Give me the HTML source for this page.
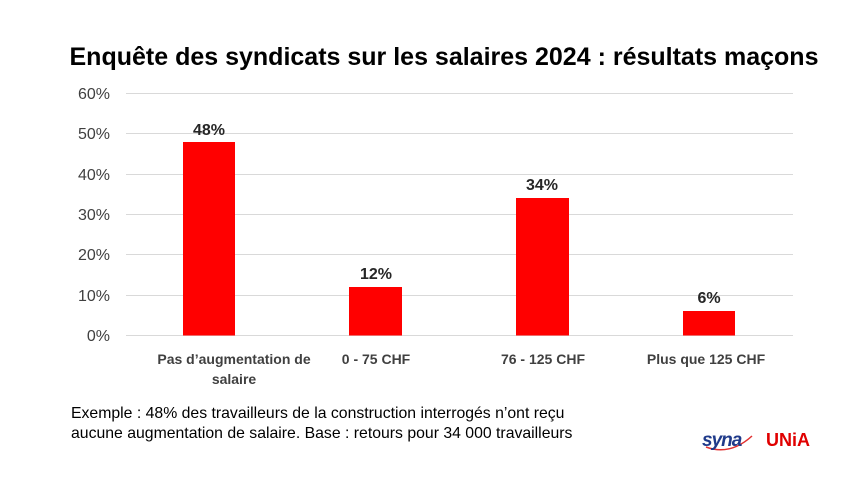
<!DOCTYPE html>
<html><head><meta charset="utf-8"><style>
body{margin:0;background:#fff;width:856px;height:481px;overflow:hidden;font-family:"Liberation Sans",sans-serif}
</style></head><body>
<svg width="856" height="481" xmlns="http://www.w3.org/2000/svg" font-family="Liberation Sans, sans-serif">
<text x="444" y="65" text-anchor="middle" font-size="25" font-weight="bold" fill="#000">Enquête des syndicats sur les salaires 2024 : résultats maçons</text>
<g stroke="#d9d9d9" stroke-width="1">
<line x1="126" x2="793" y1="93.5" y2="93.5"/><line x1="126" x2="793" y1="133.5" y2="133.5"/>
<line x1="126" x2="793" y1="174.5" y2="174.5"/><line x1="126" x2="793" y1="214.5" y2="214.5"/>
<line x1="126" x2="793" y1="254.5" y2="254.5"/><line x1="126" x2="793" y1="295.5" y2="295.5"/>
<line x1="126" x2="793" y1="335.5" y2="335.5"/>
</g>
<g font-size="16" fill="#404040" text-anchor="end">
<text x="110" y="99">60%</text><text x="110" y="139">50%</text><text x="110" y="180">40%</text>
<text x="110" y="220">30%</text><text x="110" y="260">20%</text><text x="110" y="301">10%</text><text x="110" y="341">0%</text>
</g>
<g fill="#ff0000">
<rect x="183" y="142" width="52" height="193.5"/>
<rect x="349" y="287" width="53" height="48.5"/>
<rect x="516" y="198" width="53" height="137.5"/>
<rect x="683" y="311" width="52" height="24.5"/>
</g>
<g font-size="16" font-weight="bold" fill="#262626" text-anchor="middle">
<text x="209" y="135">48%</text><text x="376" y="279">12%</text><text x="542" y="190">34%</text><text x="709" y="303">6%</text>
</g>
<g font-size="14" font-weight="bold" fill="#404040" text-anchor="middle">
<text x="234" y="364">Pas d’augmentation de</text><text x="234" y="384">salaire</text>
<text x="376" y="364">0 - 75 CHF</text><text x="543" y="364">76 - 125 CHF</text><text x="706" y="364">Plus que 125 CHF</text>
</g>
<g font-size="15.8" fill="#000">
<text x="71" y="418">Exemple : 48% des travailleurs de la construction interrogés n’ont reçu</text>
<text x="71" y="438">aucune augmentation de salaire. Base : retours pour 34 000 travailleurs</text>
</g>
<path d="M706 447 Q730 456 752 436" stroke="#e03030" stroke-width="1.5" fill="none"/>
<text x="702" y="446" font-size="19" font-weight="bold" font-style="italic" fill="#1f3a8a" letter-spacing="-1">syna</text>
<text x="766" y="446" font-size="18" font-weight="bold" fill="#e00000">UNiA</text>
</svg>
</body></html>
